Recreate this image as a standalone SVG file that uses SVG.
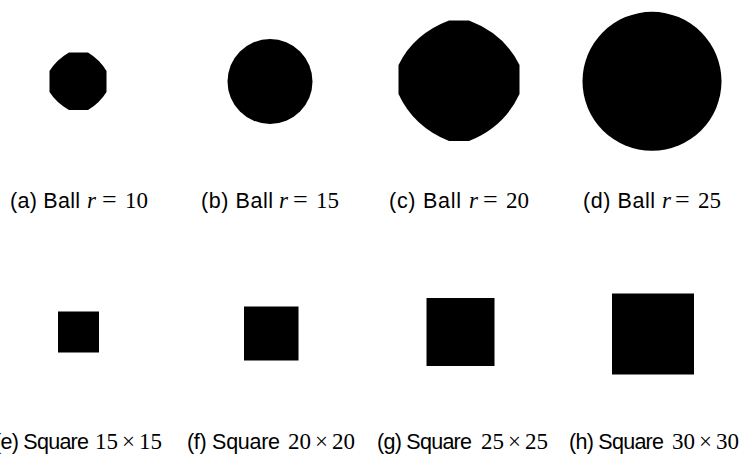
<svg xmlns="http://www.w3.org/2000/svg" width="744" height="464" viewBox="0 0 744 464">
<style>
.shape{fill:#000}
.lbl{font-family:"Liberation Sans","DejaVu Sans",sans-serif;font-size:21.5px;fill:#000}
.m{font-family:"Liberation Serif","DejaVu Serif",serif;font-size:23px}
.eq{font-family:"Liberation Serif","DejaVu Serif",serif;font-size:26px}
.mi{font-style:italic}
</style>
<rect width="744" height="464" fill="#fff"/>
<g id="ball-a"><path class="shape" d="M69,52.5 L88,52.5 Q99.56,59.44 106.5,71 L106.5,92 Q99.56,103.25 88,110 L69,110 Q56.81,103.25 49.5,92 L49.5,71 Q56.81,59.44 69,52.5 Z"/></g>
<g id="ball-b"><circle class="shape" cx="270" cy="81.5" r="42.5"/></g>
<g id="ball-c"><path class="shape" d="M449,20.5 L469,20.5 Q504.35,33.85 519.5,65 L519.5,94 Q504.35,126.9 469,141 L449,141 Q413.65,126.9 398.5,94 L398.5,65 Q413.65,33.85 449,20.5 Z"/></g>
<g id="ball-d"><circle class="shape" cx="652" cy="81.3" r="69.5"/></g>
<g id="square-e"><rect class="shape" x="58" y="311.5" width="41" height="41"/></g>
<g id="square-f"><rect class="shape" x="244" y="306.5" width="54.5" height="54"/></g>
<g id="square-g"><rect class="shape" x="426.5" y="298" width="68" height="68"/></g>
<g id="square-h"><rect class="shape" x="612" y="293.5" width="82" height="81"/></g>
<g id="connectors"/>
<g id="caption-a"><text class="lbl" y="208"><tspan x="10" textLength="70" lengthAdjust="spacing">(a) Ball</tspan><tspan class="m mi" x="87">r</tspan><tspan class="eq" x="102">=</tspan><tspan class="m" x="125">10</tspan></text></g>
<g id="caption-b"><text class="lbl" y="208"><tspan x="201" textLength="72" lengthAdjust="spacing">(b) Ball</tspan><tspan class="m mi" x="279">r</tspan><tspan class="eq" x="293">=</tspan><tspan class="m" x="316">15</tspan></text></g>
<g id="caption-c"><text class="lbl" y="208"><tspan x="389" textLength="72" lengthAdjust="spacing">(c) Ball</tspan><tspan class="m mi" x="469">r</tspan><tspan class="eq" x="483">=</tspan><tspan class="m" x="506">20</tspan></text></g>
<g id="caption-d"><text class="lbl" y="208"><tspan x="583" textLength="72" lengthAdjust="spacing">(d) Ball</tspan><tspan class="m mi" x="662">r</tspan><tspan class="eq" x="675">=</tspan><tspan class="m" x="698">25</tspan></text></g>
<g id="caption-e"><text class="lbl" y="448.5"><tspan x="-6" textLength="95" lengthAdjust="spacing">(e) Square</tspan><tspan class="m" x="95">15</tspan><tspan class="m" x="122">×</tspan><tspan class="m" x="139">15</tspan></text></g>
<g id="caption-f"><text class="lbl" y="448.5"><tspan x="187" textLength="93" lengthAdjust="spacing">(f) Square</tspan><tspan class="m" x="288">20</tspan><tspan class="m" x="315">×</tspan><tspan class="m" x="332">20</tspan></text></g>
<g id="caption-g"><text class="lbl" y="448.5"><tspan x="377" textLength="95" lengthAdjust="spacing">(g) Square</tspan><tspan class="m" x="481">25</tspan><tspan class="m" x="508">×</tspan><tspan class="m" x="525">25</tspan></text></g>
<g id="caption-h"><text class="lbl" y="448.5"><tspan x="569" textLength="95" lengthAdjust="spacing">(h) Square</tspan><tspan class="m" x="672">30</tspan><tspan class="m" x="699">×</tspan><tspan class="m" x="716">30</tspan></text></g>
</svg>
